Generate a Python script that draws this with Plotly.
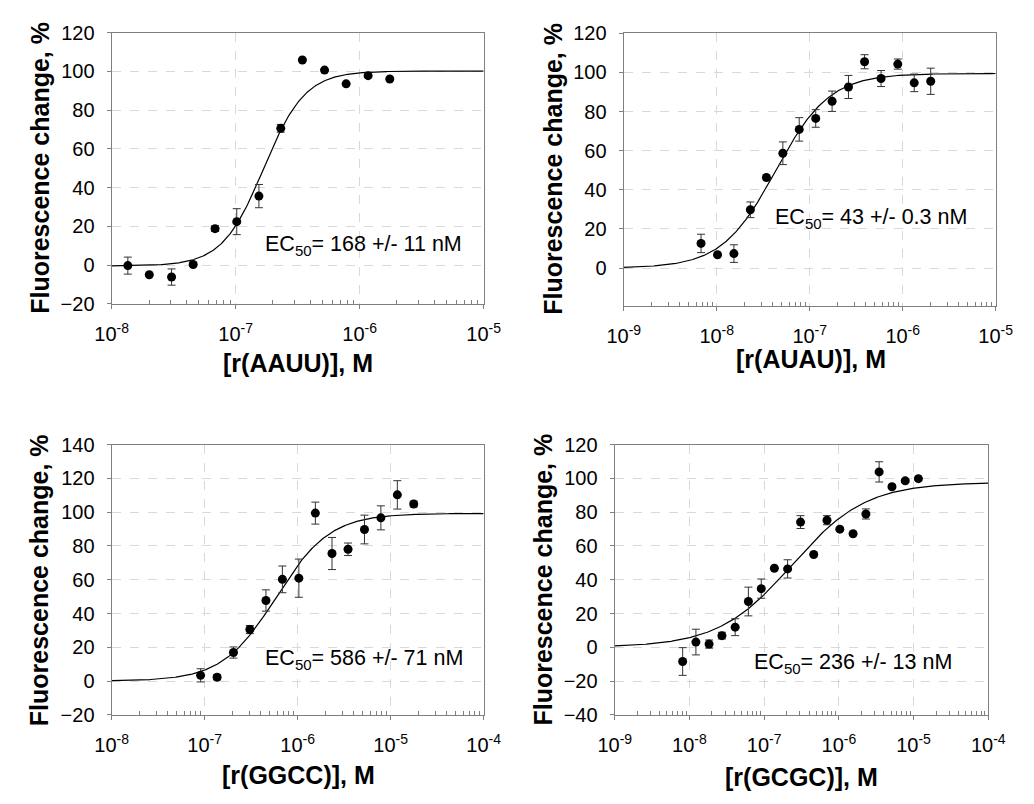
import numpy as np
import plotly.graph_objects as go

W, H = 1034, 804

# ---------------- data ----------------
# Panel 1: r(AAUU)
aauu_conc = [1.35e-8, 2.01e-8, 3.04e-8, 4.54e-8, 6.82e-8, 1.02e-7, 1.54e-7,
             2.31e-7, 3.45e-7, 5.21e-7, 7.78e-7, 1.17e-6, 1.75e-6]
aauu_resp = [-0.3, -5.0, -6.2, 0.3, 18.8, 22.4, 35.6, 70.6, 105.9, 100.7, 93.6, 97.8, 96.1]
aauu_err = [4.4, 0, 4.2, 1.0, 1.5, 6.7, 6.0, 2.0, 0, 0, 0, 0, 0]
aauu_fit = dict(bottom=-0.5, top=100.2, ec50=168e-9, hill=2.6)

# Panel 2: r(AUAU)
auau_conc = [6.78e-9, 1.02e-8, 1.53e-8, 2.30e-8, 3.42e-8, 5.14e-8, 7.71e-8, 1.16e-7,
             1.74e-7, 2.61e-7, 3.89e-7, 5.85e-7, 8.85e-7, 1.33e-6, 2.0e-6]
auau_resp = [12.6, 6.8, 7.4, 29.8, 46.3, 58.7, 70.9, 76.5, 85.3, 92.6, 105.5, 96.9, 104.3, 94.7, 95.5]
auau_err = [4.7, 0, 4.5, 4.0, 0, 5.8, 6.0, 4.5, 5.2, 5.9, 3.6, 4.1, 2.6, 4.5, 6.7]
auau_fit = dict(bottom=0.0, top=99.5, ec50=43e-9, hill=1.5)

# Panel 3: r(GGCC)
ggcc_conc = [9.04e-8, 1.36e-7, 2.04e-7, 3.06e-7, 4.56e-7, 6.85e-7, 1.03e-6,
             1.55e-6, 2.34e-6, 3.48e-6, 5.23e-6, 7.85e-6, 1.18e-5, 1.77e-5]
ggcc_resp = [3.4, 2.3, 16.9, 30.5, 47.7, 60.2, 60.9, 99.4, 75.5, 78.0, 89.7, 96.6, 110.2, 104.8]
ggcc_err = [3.9, 1.5, 3.3, 2.4, 6.3, 7.9, 11.3, 6.5, 9.5, 3.7, 8.5, 7.1, 8.4, 1.7]
ggcc_fit = dict(bottom=0.0, top=99.2, ec50=586e-9, hill=1.5)

# Panel 4: r(GCGC)
gcgc_conc = [8.11e-9, 1.22e-8, 1.83e-8, 2.72e-8, 4.09e-8, 6.15e-8, 9.14e-8, 1.37e-7,
             2.06e-7, 3.07e-7, 4.61e-7, 6.93e-7, 1.03e-6, 1.55e-6, 2.30e-6, 3.46e-6,
             5.14e-6, 7.73e-6, 1.16e-5]
gcgc_resp = [-8.4, 3.1, 1.9, 6.9, 11.9, 27.1, 34.7, 46.8, 46.4, 74.1, 54.9, 75.2,
             69.9, 67.2, 78.9, 103.8, 95.0, 98.5, 99.8]
gcgc_err = [8.2, 7.6, 2.4, 2.0, 5.0, 8.5, 5.7, 0, 5.4, 3.8, 0, 2.7, 0, 0, 3.0, 6.0, 1.0, 1.0, 0]
gcgc_fit = dict(bottom=0.0, top=97.6, ec50=236e-9, hill=0.88)

x_titles = ["[r(AAUU)], M", "[r(AUAU)], M", "[r(GGCC)], M", "[r(GCGC)], M"]
y_title = "Fluorescence change, %"
ec50_values = ["= 168 +/- 11 nM", "= 43 +/- 0.3 nM", "= 586 +/- 71 nM", "= 236 +/- 13 nM"]
x_decades = [(-8, -5), (-9, -5), (-8, -4), (-9, -4)]
y_ranges = [(-20, 120), (-19.4, 120), (-20, 140), (-40, 120)]
y_ticks = [list(range(-20, 121, 20)), list(range(0, 121, 20)),
           list(range(-20, 141, 20)), list(range(-40, 121, 20))]

# ---------------- layout (pixel boxes) ----------------
boxes = [(98, 483, 22.3, 301), (628, 1013, 23, 303.3),
         (98, 483, 445.7, 723.7), (618.7, 1005.3, 445.7, 723.7)]
ytitle_pos = [(23, 161), (554, 162), (23, 585), (544, 585)]
xtitle_pos = [(291, 362), (822, 358), (291, 786), (812, 788)]
ec_pos = [(359, 241), (884, 213), (359, 667), (865, 671)]

panels = [
    (aauu_conc, aauu_resp, aauu_err, aauu_fit),
    (auau_conc, auau_resp, auau_err, auau_fit),
    (ggcc_conc, ggcc_resp, ggcc_err, ggcc_fit),
    (gcgc_conc, gcgc_resp, gcgc_err, gcgc_fit),
]

TICK_SIZE = 20
EC_SIZE = 21.5


def px(x):
    return x / W


def py(y):
    return 1 - y / H


def hill(x, bottom, top, ec50, hill):
    return bottom + (top - bottom) / (1 + (ec50 / x) ** hill)


FONT = "Liberation Sans, Arial, sans-serif"
AX = "#7f7f7f"
fig = go.Figure()
annotations = []

for i, (conc, resp, err, fit) in enumerate(panels):
    n = i + 1
    xa = "x" if n == 1 else f"x{n}"
    ya = "y" if n == 1 else f"y{n}"
    d0, d1 = x_decades[i]
    xs = np.logspace(d0, d1, 400)
    fig.add_trace(go.Scatter(x=xs, y=hill(xs, **fit), mode="lines",
                             line=dict(color="black", width=1.2),
                             xaxis=xa, yaxis=ya, showlegend=False, hoverinfo="skip"))
    fig.add_trace(go.Scatter(x=conc, y=resp, mode="markers",
                             marker=dict(color="black", size=9),
                             error_y=dict(type="data", array=err, visible=True,
                                          color="#333333", thickness=1, width=4),
                             xaxis=xa, yaxis=ya, showlegend=False))
    l, r, t, b = boxes[i]
    major = [10.0 ** k for k in range(d0, d1 + 1)]
    minor = [m * 10.0 ** k for k in range(d0, d1) for m in range(2, 10)]
    sup = round(TICK_SIZE * 0.7, 1)
    xkey = "xaxis" if n == 1 else f"xaxis{n}"
    ykey = "yaxis" if n == 1 else f"yaxis{n}"
    fig.update_layout({
        xkey: dict(domain=[px(l), px(r)], anchor=ya, type="log",
                   range=[d0, d1], tickmode="array", tickvals=major,
                   ticktext=[f"10<sup><span style='font-size:{sup}px'>{k}</span></sup>"
                             for k in range(d0, d1 + 1)],
                   ticks="outside", ticklen=4, tickcolor=AX,
                   showgrid=True, gridcolor="#d9d9d9", griddash="dash", gridwidth=1,
                   showline=True, linecolor=AX, linewidth=1.3, mirror=True,
                   zeroline=False, ticklabelstandoff=8,
                   tickfont=dict(family=FONT, size=TICK_SIZE, color="black"),
                   minor=dict(tickmode="array", tickvals=minor, ticks="inside",
                              ticklen=4, tickcolor=AX, showgrid=False)),
        ykey: dict(domain=[py(b), py(t)], anchor=xa, range=list(y_ranges[i]),
                   tickmode="array", tickvals=y_ticks[i],
                   ticks="outside", ticklen=4, tickcolor=AX,
                   showgrid=True, gridcolor="#d9d9d9", griddash="dash", gridwidth=1,
                   showline=True, linecolor=AX, linewidth=1.3, mirror=True,
                   zeroline=False, ticklabelstandoff=8,
                   tickfont=dict(family=FONT, size=TICK_SIZE, color="black")),
    })
    tx, ty = ytitle_pos[i]
    annotations.append(dict(text=f"<b>{y_title}</b>", x=px(tx), y=py(ty),
                            xref="paper", yref="paper", showarrow=False, textangle=-90,
                            xanchor="center", yanchor="middle",
                            font=dict(family=FONT, size=25, color="black")))
    tx, ty = xtitle_pos[i]
    annotations.append(dict(text=f"<b>{x_titles[i]}</b>", x=px(tx), y=py(ty),
                            xref="paper", yref="paper", showarrow=False,
                            xanchor="center", yanchor="middle",
                            font=dict(family=FONT, size=25, color="black")))
    tx, ty = ec_pos[i]
    sub = round(EC_SIZE * 0.7, 1)
    annotations.append(dict(text=f"EC<sub><span style='font-size:{sub}px'>50</span></sub>{ec50_values[i]}",
                            x=px(tx), y=py(ty),
                            xref="paper", yref="paper", showarrow=False,
                            xanchor="center", yanchor="middle",
                            font=dict(family=FONT, size=EC_SIZE, color="black")))

fig.update_layout(width=W, height=H, margin=dict(l=0, r=0, t=0, b=0),
                  paper_bgcolor="white", plot_bgcolor="white",
                  annotations=annotations, showlegend=False)

fig.write_html("out.html")
